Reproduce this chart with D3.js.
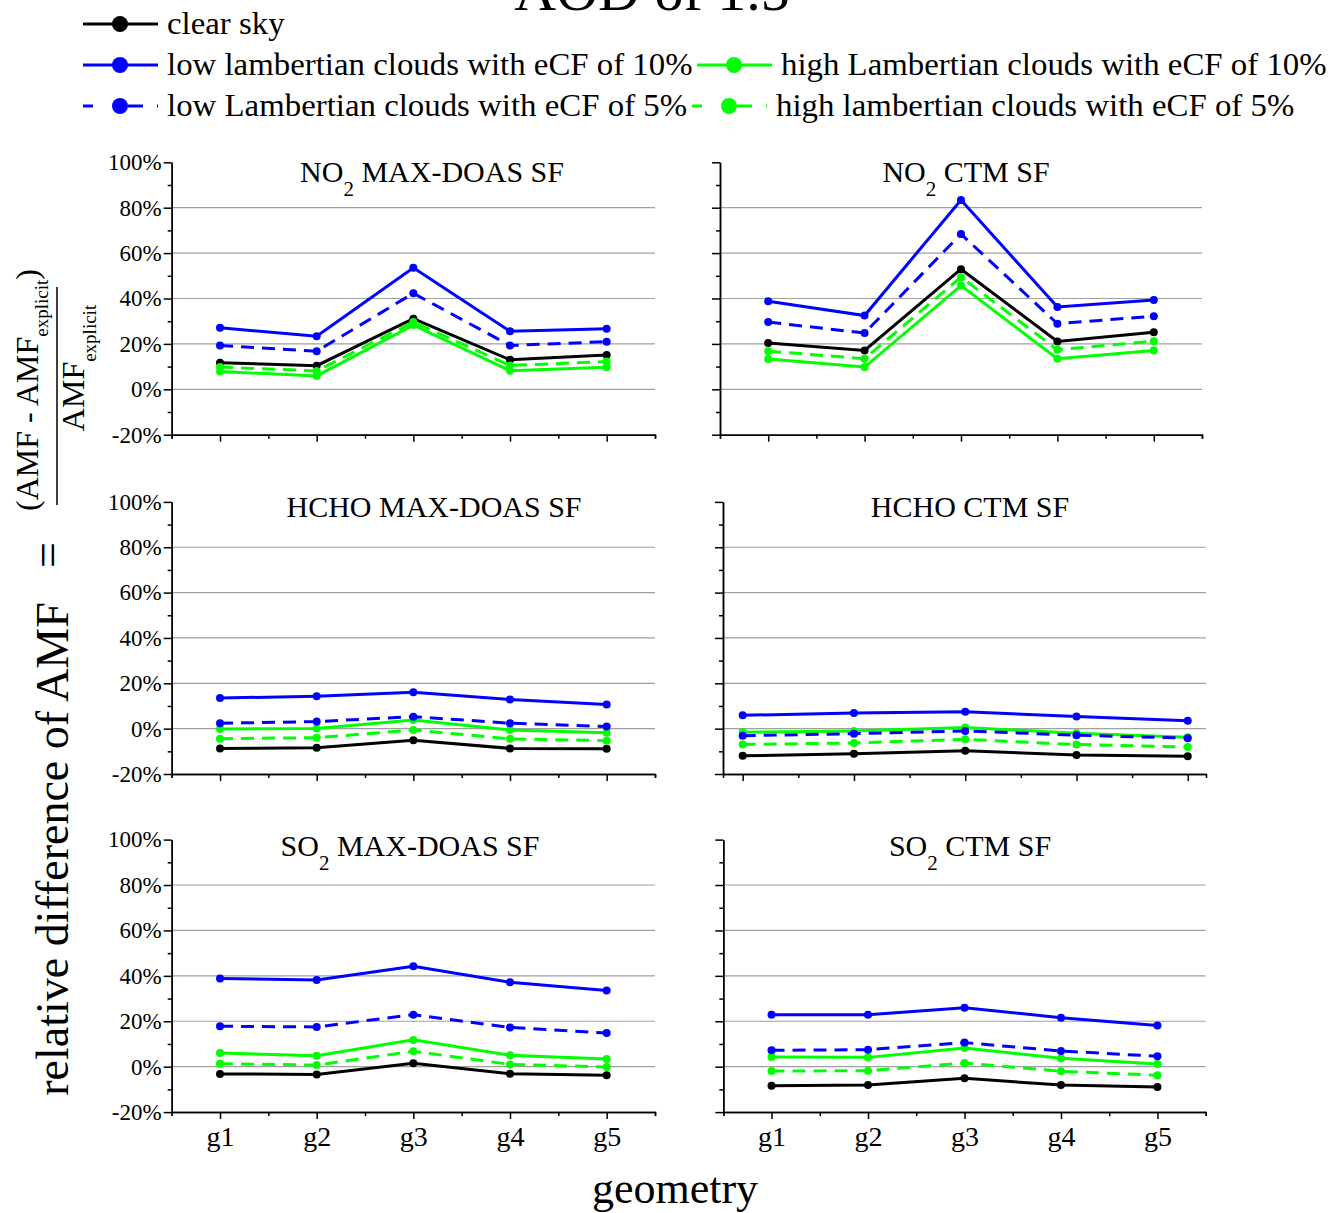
<!DOCTYPE html>
<html>
<head>
<meta charset="utf-8">
<script src="https://cdn.jsdelivr.net/npm/d3@7"></script>
<style>
body { margin: 0; background: #fff; }
text { font-family: "Liberation Serif", "Times New Roman", serif; fill: #000; }
</style>
</head>
<body>
<svg id="chart" width="1331" height="1213"></svg>
<script>
// categories / ticks
const geometries = ["g1", "g2", "g3", "g4", "g5"];
const yMajorTicks = [-20, 0, 20, 40, 60, 80, 100];
const yMinorTicks = [-10, 10, 30, 50, 70, 90];
const gridTicks = [0, 20, 40, 60, 80];

// series
const seriesNames = [
    "clear sky",
    "low lambertian clouds with eCF of 10%",
    "high Lambertian clouds with eCF of 10%",
    "low Lambertian clouds with eCF of 5%",
    "high lambertian clouds with eCF of 5%"
];
const seriesColors = ["#000000", "#0000ff", "#00ff00", "#0000ff", "#00ff00"];
const seriesDashed = [false, false, false, true, true];

// values in %, order: clear, low 10%, high 10%, low 5%, high 5%
const no2MaxDoas = [
    [11.7, 10.4, 31.1, 13.0, 15.1],
    [27.1, 23.4, 53.5, 25.6, 26.7],
    [7.8, 5.9, 28.3, 8.2, 9.7],
    [19.3, 16.8, 42.3, 19.3, 21.0],
    [9.8, 8.1, 29.6, 10.5, 12.2]
];
const no2Ctm = [
    [20.4, 17.1, 52.9, 21.1, 25.1],
    [38.8, 32.5, 83.4, 36.3, 39.3],
    [13.3, 9.8, 45.7, 13.5, 17.1],
    [29.6, 24.8, 68.4, 28.9, 32.2],
    [16.8, 13.5, 49.4, 17.4, 21.2]
];
const hchoMaxDoas = [
    [-8.8, -8.4, -5.1, -8.7, -8.9],
    [13.5, 14.3, 16.0, 12.9, 10.7],
    [-0.1, 0.1, 3.8, -0.6, -1.8],
    [2.4, 3.1, 5.3, 2.4, 0.9],
    [-4.4, -4.0, -0.6, -4.5, -5.3]
];
const hchoCtm = [
    [-12.0, -11.1, -9.8, -11.6, -12.2],
    [5.9, 6.9, 7.4, 5.4, 3.5],
    [-1.6, -1.0, 0.5, -2.0, -3.8],
    [-3.1, -2.2, -1.0, -2.9, -4.2],
    [-7.0, -6.3, -4.7, -7.0, -8.1]
];
const so2MaxDoas = [
    [-3.2, -3.4, 1.5, -3.1, -3.8],
    [38.8, 38.2, 44.2, 37.2, 33.5],
    [6.0, 4.8, 11.8, 5.0, 3.4],
    [17.8, 17.5, 22.9, 17.3, 14.8],
    [1.3, 0.7, 6.8, 1.0, -0.1]
];
const so2Ctm = [
    [-8.4, -8.1, -5.1, -8.1, -8.9],
    [22.9, 22.9, 25.9, 21.6, 18.1],
    [4.3, 4.1, 8.2, 3.7, 1.2],
    [7.2, 7.5, 10.6, 6.9, 4.6],
    [-1.9, -1.8, 1.6, -2.0, -3.8]
];

const svg = d3.select("#chart");
const serif = "'Liberation Serif', 'Times New Roman', serif";

// panel layout
const panels = [
    { title: [["NO", 0], ["2", 1], [" MAX-DOAS SF", 0]], data: no2MaxDoas, xr: [171.7, 655], xd: [0.5, 5.5], yr: [434.7, 162.3], labels: true, tx: 432, ty: 182 },
    { title: [["NO", 0], ["2", 1], [" CTM SF", 0]], data: no2Ctm, xr: [720, 1202], xd: [0.5, 5.5], yr: [434.7, 162.3], labels: false, tx: 966, ty: 182 },
    { title: [["HCHO MAX-DOAS SF", 0]], data: hchoMaxDoas, xr: [171.7, 655], xd: [0.5, 5.5], yr: [774, 501.9], labels: true, tx: 434, ty: 517 },
    { title: [["HCHO CTM SF", 0]], data: hchoCtm, xr: [723, 1206], xd: [0.823, 5.164], yr: [774, 501.9], labels: false, tx: 970, ty: 517 },
    { title: [["SO", 0], ["2", 1], [" MAX-DOAS SF", 0]], data: so2MaxDoas, xr: [171.7, 655], xd: [0.5, 5.5], yr: [1112.1, 839.6], labels: true, tx: 410, ty: 856, bottom: true },
    { title: [["SO", 0], ["2", 1], [" CTM SF", 0]], data: so2Ctm, xr: [723.3, 1205.7], xd: [0.5, 5.5], yr: [1112.1, 839.6], labels: false, tx: 970, ty: 856, bottom: true }
];

function addSubText(g, parts, size, subSize, subShift) {
    var t = g.append("text").attr("text-anchor", "middle")
        .style("font-size", size + "px").style("font-family", serif);
    var shifted = false;
    parts.forEach(p => {
        var ts = t.append("tspan").text(p[0]);
        if (p[1]) {
            ts.style("font-size", subSize + "px").attr("dy", subShift);
            shifted = true;
        } else if (shifted) {
            ts.attr("dy", -subShift);
            shifted = false;
        }
    });
    return t;
}

panels.forEach(p => {
    const x = d3.scaleLinear().domain(p.xd).range(p.xr);
    const y = d3.scaleLinear().domain([-20, 100]).range(p.yr);
    const g = svg.append("g");

    // grid
    g.selectAll(".grid")
        .data(gridTicks)
        .enter()
        .append("line")
        .attr("x1", p.xr[0]).attr("x2", p.xr[1])
        .attr("y1", d => y(d)).attr("y2", d => y(d))
        .attr("stroke", "#a0a0a0").attr("stroke-width", 1.2);

    // y axis
    const yAxis = d3.axisLeft(y).tickValues(yMajorTicks).tickSize(8).tickSizeOuter(0).tickPadding(2)
        .tickFormat(d => p.labels ? d + "%" : "");
    const ya = g.append("g").attr("transform", `translate(${p.xr[0]},0)`).call(yAxis);
    g.append("g").attr("transform", `translate(${p.xr[0]},0)`)
        .call(d3.axisLeft(y).tickValues(yMinorTicks).tickSize(4).tickSizeOuter(0).tickFormat(""));

    // x axis
    const xAxis = d3.axisBottom(x).tickValues([1, 2, 3, 4, 5]).tickSize(7).tickSizeOuter(0).tickPadding(7)
        .tickFormat(d => p.bottom ? geometries[d - 1] : "");
    const xa = g.append("g").attr("transform", `translate(0,${p.yr[0]})`).call(xAxis);
    const minorX = [0.5, 1.5, 2.5, 3.5, 4.5, 5.5].filter(v => v >= p.xd[0] - 1e-6 && v <= p.xd[1] + 1e-6);
    g.append("g").attr("transform", `translate(0,${p.yr[0]})`)
        .call(d3.axisBottom(x).tickValues(minorX).tickSize(4).tickSizeOuter(4).tickFormat(""));

    g.selectAll(".domain").attr("stroke", "#000").attr("stroke-width", 1.5);
    g.selectAll(".tick line").attr("stroke", "#000").attr("stroke-width", 1.5);
    ya.selectAll("text").style("font-size", "23px").style("font-family", serif);
    xa.selectAll("text").style("font-size", "28px").style("font-family", serif);

    // title
    const tg = g.append("g").attr("transform", `translate(${p.tx},${p.ty})`);
    addSubText(tg, p.title, 30, 21, 14);

    // series
    const line = d3.line().x((d, i) => x(i + 1)).y(d => y(d));
    p.data.forEach((vals, s) => {
        g.append("path")
            .datum(vals)
            .attr("d", line)
            .attr("fill", "none")
            .attr("stroke", seriesColors[s])
            .attr("stroke-width", 3)
            .attr("stroke-dasharray", seriesDashed[s] ? "13,8" : null);
        g.selectAll(".pt" + s)
            .data(vals)
            .enter()
            .append("circle")
            .attr("cx", (d, i) => x(i + 1))
            .attr("cy", d => y(d))
            .attr("r", 4)
            .attr("fill", seriesColors[s]);
    });
});

// legend
const legendPos = [[83, 24], [83, 65], [697, 65], [83, 106], [692, 106]];
legendPos.forEach((pos, s) => {
    const lg = svg.append("g").attr("transform", `translate(${pos[0]},${pos[1]})`);
    lg.append("line")
        .attr("x1", 0).attr("x2", 75).attr("y1", 0).attr("y2", 0)
        .attr("stroke", seriesColors[s]).attr("stroke-width", 3)
        .attr("stroke-dasharray", seriesDashed[s] ? "10,35,15,14,3,20" : null);
    lg.append("circle").attr("cx", 37).attr("cy", 0).attr("r", 8).attr("fill", seriesColors[s]);
    lg.append("text")
        .attr("transform", "translate(84,10) scale(1.06,1)")
        .style("font-size", "31px").style("font-family", serif)
        .text(seriesNames[s]);
});

// main title (cut off at top)
svg.append("text")
    .attr("x", 652).attr("y", 10)
    .attr("text-anchor", "middle")
    .style("font-size", "58px").style("font-family", serif)
    .text("AOD of 1.5");

// x axis title
svg.append("text")
    .attr("x", 675).attr("y", 1203)
    .attr("text-anchor", "middle")
    .style("font-size", "44px").style("font-family", serif)
    .text("geometry");

// y axis title with fraction
svg.append("text")
    .attr("transform", "translate(68,849) rotate(-90)")
    .attr("text-anchor", "middle")
    .style("font-size", "46px").style("font-family", serif)
    .text("relative difference of AMF");
svg.append("text")
    .attr("transform", "translate(63,555) rotate(-90)")
    .attr("text-anchor", "middle")
    .style("font-size", "46px").style("font-family", serif)
    .text("=");
const num = svg.append("g").attr("transform", "translate(38,390) rotate(-90)");
addSubText(num, [["(AMF - AMF", 0], ["explicit", 1], [")", 0]], 32, 19, 10);
const den = svg.append("g").attr("transform", "translate(84,368) rotate(-90)");
addSubText(den, [["AMF", 0], ["explicit", 1]], 32, 19, 12);
svg.append("line")
    .attr("x1", 57).attr("x2", 57).attr("y1", 287).attr("y2", 505)
    .attr("stroke", "#000").attr("stroke-width", 1.5);
</script>
</body>
</html>
